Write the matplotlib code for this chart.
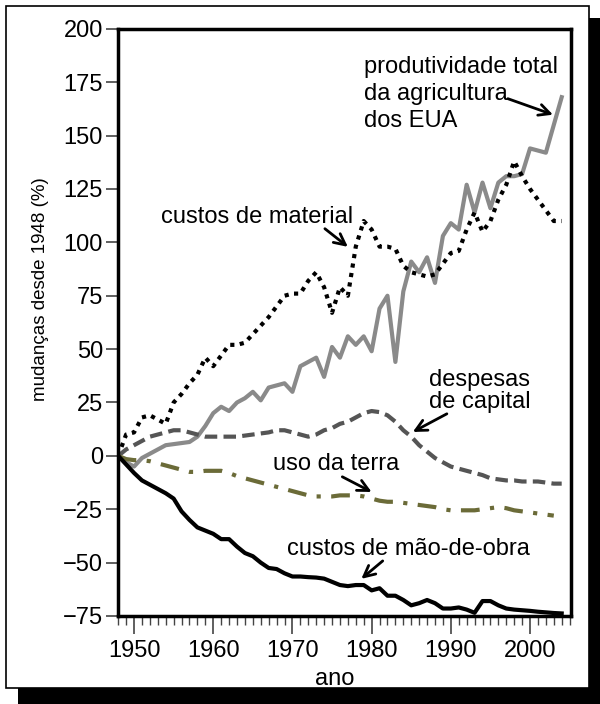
import matplotlib
matplotlib.use("Agg")
import matplotlib.pyplot as plt
from matplotlib.patches import Rectangle
from matplotlib.ticker import MultipleLocator

plt.rcParams['font.family'] = ['Liberation Sans', 'DejaVu Sans']

anos = list(range(1948, 2005))

produtividade = [0, -3, -5, -1, 1, 3, 5, 5.5, 6, 6.5, 9, 14, 20, 23, 21, 25, 27, 30, 26, 32,
                 33, 34, 30, 42, 44, 46, 37, 51, 46, 56, 52, 56, 49, 69, 75, 44, 77, 91, 86, 93,
                 81, 103, 109, 106, 127, 114, 128, 116, 128, 131, 131, 132, 144, 143, 142, 155, 168]

material = [0, 10, 11, 18, 19, 17, 15, 25, 29, 34, 38, 46, 42, 47, 52, 52, 53, 57, 61, 65,
            70, 75, 76, 76, 82, 86, 79, 67, 79, 75, 98, 110, 106, 98, 98, 97, 89, 86, 85, 84,
            85, 90, 95, 96, 106, 114, 105, 110, 120, 127, 138, 131, 125, 120, 115, 110, 110]

capital = [0, 3, 5, 7, 9, 10, 11, 12, 12, 11, 10, 9, 9, 9, 9, 9, 9.5, 10, 10.5, 11,
           12, 12, 11, 10, 9, 10, 12, 13, 15, 16, 18, 20, 21, 20.5, 19, 16, 12, 9, 5, 2,
           -1, -3, -5, -6, -7, -8, -9, -10.5, -11, -11.5, -11.5, -12, -12, -12, -12.5, -13, -13]

terra = [0, -1.5, -2, -2, -2.5, -3.5, -4.5, -5.5, -6.5, -7.5, -7.5, -7, -7, -7, -8, -9.5,
         -10.5, -11.5, -12.5, -13.5, -14.5, -15.5, -16.5, -17.5, -18.5, -19, -19, -19, -18.5,
         -18.5, -18.5, -19, -20, -21, -21.5, -21.5, -22, -22.5, -23, -23.5, -24, -25, -25.5,
         -25.5, -25.5, -25.5, -25, -24.5, -24, -24.5, -25.5, -26, -26.5, -27, -27.5, -28]

mao_de_obra = [0, -4, -8, -11.5, -13.5, -15.5, -17.5, -20, -26, -30, -33.5, -35, -36.5, -39,
               -39, -42.5, -45.5, -47, -50, -52.5, -53, -55, -56.5, -56.5, -56.8, -57, -57.5,
               -59, -60.5, -61, -60.5, -60.5, -63, -62, -65.5, -65.5, -67.5, -70, -69, -67.5,
               -69, -71.5, -71.5, -71, -72, -73.5, -68, -68, -70, -71.5, -72, -72.3, -72.6,
               -73, -73.3, -73.6, -73.8]

fs = 17

fig = plt.figure(figsize=(6, 7.04), dpi=100)

# moldura com sombra
fig.patches.append(Rectangle((0.03, 0.0), 0.98, 0.974, transform=fig.transFigure,
                             facecolor='black', edgecolor='none', zorder=-2))
fig.patches.append(Rectangle((0.01, 0.0227), 0.972, 0.9688, transform=fig.transFigure,
                             facecolor='white', edgecolor='black', lw=1.2, zorder=-1))

ax = fig.add_axes([0.197, 0.125, 0.755, 0.834])

ax.plot(anos, produtividade, color='#8a8a8a', lw=3)
ax.plot(anos, material, color='black', lw=3, linestyle=(0, (1, 1.3)), dash_capstyle='butt')
ax.plot(anos, capital, color='#555555', lw=3, linestyle=(0, (3, 1.5)), dash_capstyle='butt')
ax.plot(anos[:len(terra)], terra, color='#6b6b38', lw=3, linestyle=(0, (4.5, 2.5, 1, 2.5)),
        dash_capstyle='butt')
ax.plot(anos, mao_de_obra, color='black', lw=3)

ax.set_xlim(1948, 2005.2)
ax.set_ylim(-75, 200)
ax.yaxis.set_major_locator(MultipleLocator(25))
ax.xaxis.set_major_locator(MultipleLocator(10))
ax.xaxis.set_minor_locator(MultipleLocator(1))
ax.tick_params(axis='y', direction='out', length=9, width=1.2, labelsize=fs, pad=2, color='#444444')
ax.tick_params(axis='x', which='major', direction='out', length=13, width=1.2, labelsize=fs, pad=4,
               color='#444444')
ax.tick_params(axis='x', which='minor', direction='out', length=6.5, width=1, color='#444444')
for s in ax.spines.values():
    s.set_linewidth(2.5)

ax.set_ylabel('mudanças desde 1948 (%)', fontsize=13.5)
ax.yaxis.set_label_coords(-0.152, 0.557)
ax.set_xlabel('ano', fontsize=fs)
ax.xaxis.set_label_coords(0.477, -0.088)

seta = dict(arrowstyle='->', lw=2, color='black', shrinkA=0, shrinkB=0, mutation_scale=20)

ax.text(1979.1, 169.6, 'produtividade total\nda agricultura\ndos EUA', fontsize=fs,
        ha='left', va='center', linespacing=1.3)
ax.annotate('', xy=(2002.9, 159.8), xytext=(1997.2, 167.3), arrowprops=seta)

ax.text(1953.4, 112, 'custos de material', fontsize=fs, ha='left', va='center')
ax.annotate('', xy=(1977, 97.9), xytext=(1974.1, 106.4), arrowprops=seta)

ax.text(1987.3, 30.5, 'despesas\nde capital', fontsize=fs, ha='left', va='center', linespacing=1.0)
ax.annotate('', xy=(1985.2, 11.2), xytext=(1989.5, 19.7), arrowprops=seta)

ax.text(1967.5, -3.7, 'uso da terra', fontsize=fs, ha='left', va='center')
ax.annotate('', xy=(1980, -16.9), xytext=(1976.3, -9.8), arrowprops=seta)

ax.text(1969.3, -43.6, 'custos de mão-de-obra', fontsize=fs, ha='left', va='center')
ax.annotate('', xy=(1978.7, -57.6), xytext=(1981.4, -49.2), arrowprops=seta)

fig.savefig('out.png', dpi=100)
